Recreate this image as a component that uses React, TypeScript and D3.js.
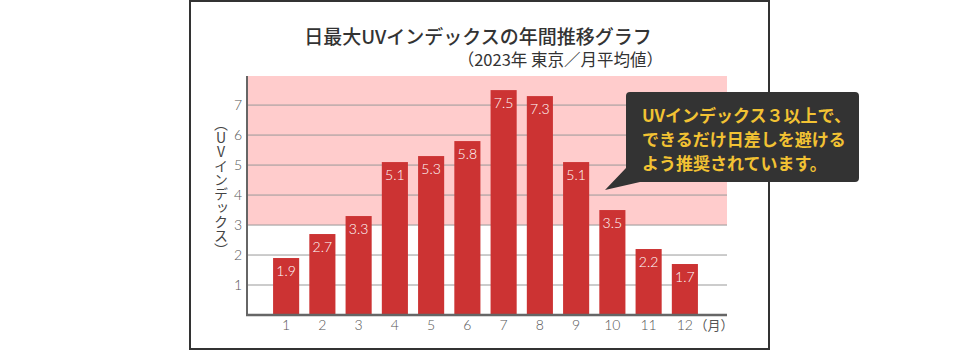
import React from "react";
import * as d3 from "d3";

const months = ["1", "2", "3", "4", "5", "6", "7", "8", "9", "10", "11", "12"];
const uvValues = [1.9, 2.7, 3.3, 5.1, 5.3, 5.8, 7.5, 7.3, 5.1, 3.5, 2.2, 1.7];
const yTicks = [1, 2, 3, 4, 5, 6, 7];
const titleText = "日最大UVインデックスの年間推移グラフ";
const subtitleText = "（2023年 東京／月平均値）";
const yAxisTitle = "（UVインデックス）";
const xUnit = "（月）";
const calloutLines = ["UVインデックス３以上で、", "できるだけ日差しを避ける", "よう推奨されています。"];
const dangerThreshold = 3;

const W = 960;
const H = 356;
const plot = { left: 247, right: 727, top: 76, bottom: 315 };
const jp = "'Noto Sans CJK JP', 'Noto Sans', sans-serif";
const num = "'Lato', 'Noto Sans', sans-serif";

export default function App() {
  const x = d3
    .scaleBand<string>()
    .domain(months)
    .range([268, 703])
    .paddingInner(0.28)
    .paddingOuter(0.14);
  const y = d3.scaleLinear().domain([0, 7.97]).range([plot.bottom, plot.top]);

  return (
    <svg
      width={W}
      height={H}
      style={{ position: "absolute", left: 0, top: 0, display: "block" }}
    >
      <rect x={0} y={0} width={W} height={H} fill="#fff" />
      {/* frame */}
      <rect x={190} y={1} width={579} height={348} fill="none" stroke="#333" strokeWidth={2} />

      {/* title */}
      <text x={478} y={44} textAnchor="middle" fontFamily={jp} fontSize={19} fontWeight={500} fill="#333">
        {titleText}
      </text>
      <text x={663} y={66} textAnchor="end" fontFamily={jp} fontSize={16.5} fontWeight={400} fill="#333">
        {subtitleText}
      </text>

      {/* pink danger zone */}
      <rect
        x={plot.left}
        y={y(7.97)}
        width={plot.right - plot.left}
        height={y(dangerThreshold) - y(7.97)}
        fill="#ffcccc"
      />

      {/* gridlines */}
      {yTicks.map((t) => (
        <line key={t} x1={plot.left} x2={plot.right} y1={y(t)} y2={y(t)} stroke="#999" strokeWidth={1} />
      ))}

      {/* y tick labels */}
      {yTicks.map((t) => (
        <text key={t} x={238} y={y(t) + 5} textAnchor="middle" fontFamily={num} fontWeight={300} fontSize={14} fill="#555">
          {t}
        </text>
      ))}

      {/* y axis title vertical */}
      <text
        x={221}
        y={117}
        fontFamily={jp}
        fontSize={14}
        fill="#444"
        style={{ writingMode: "vertical-rl", textOrientation: "upright" } as any}
      >
        {yAxisTitle}
      </text>

      {/* bars */}
      {uvValues.map((v, i) => (
        <g key={i}>
          <rect
            x={x(months[i])}
            y={y(v)}
            width={x.bandwidth()}
            height={y(0) - y(v)}
            fill="#cc3333"
          />
          <text
            x={(x(months[i]) as number) + x.bandwidth() / 2}
            y={y(v) + 18}
            textAnchor="middle"
            fontFamily={num}
            fontWeight={300}
            fontSize={14}
            fill="#fff"
          >
            {v.toFixed(1)}
          </text>
        </g>
      ))}

      {/* axes */}
      <line x1={plot.left} x2={plot.left} y1={plot.top} y2={plot.bottom + 1} stroke="#666" strokeWidth={2} />
      <line x1={plot.left - 1} x2={plot.right} y1={plot.bottom} y2={plot.bottom} stroke="#666" strokeWidth={2.5} />

      {/* x tick labels */}
      {months.map((m) => (
        <text
          key={m}
          x={(x(m) as number) + x.bandwidth() / 2}
          y={330}
          textAnchor="middle"
          fontFamily={num}
          fontWeight={300}
          fontSize={14}
          fill="#555"
        >
          {m}
        </text>
      ))}
      <text x={714} y={330} textAnchor="middle" fontFamily={jp} fontSize={13} fill="#555">
        {xUnit}
      </text>

      {/* callout */}
      <path
        d="M630,92 H855 Q859,92 859,96 V178 Q859,182 855,182 H640 L605,190 L626,168 V96 Q626,92 630,92 Z"
        fill="#333333"
      />
      {calloutLines.map((line, i) => (
        <text
          key={i}
          x={642}
          y={121.5 + i * 24}
          fontFamily={jp}
          fontSize={17}
          fontWeight={700}
          fill="#f2c233"
        >
          {line}
        </text>
      ))}
    </svg>
  );
}
